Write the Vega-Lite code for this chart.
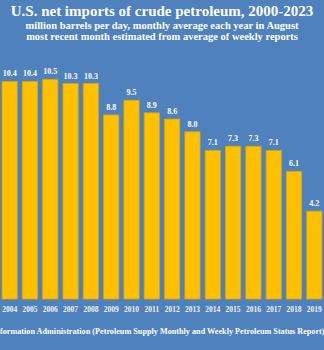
{
  "$schema": "https://vega.github.io/schema/vega-lite/v6.json",
  "autosize": "none",
  "padding": {"top": 48, "left": 0, "right": 0, "bottom": 51},
  "width": 324,
  "height": 251,
  "background": "#4F81BD",
  "title": {
    "text": "U.S. net imports of crude petroleum, 2000-2023",
    "subtitle": ["million barrels per day, monthly average each year in August", "most recent month estimated from average of weekly reports"],
    "anchor": "middle",
    "font": "Liberation Serif",
    "fontSize": 15,
    "fontWeight": "bold",
    "color": "#FFFFFF",
    "subtitleFont": "Liberation Serif",
    "subtitleFontSize": 10.5,
    "subtitleFontWeight": "bold",
    "subtitleColor": "#FFFFFF",
    "subtitleLineHeight": 11,
    "subtitlePadding": 2,
    "offset": 6
  },
  "data": {
    "values": [
      {"year": "2004", "value": 10.4},
      {"year": "2005", "value": 10.4},
      {"year": "2006", "value": 10.5},
      {"year": "2007", "value": 10.3},
      {"year": "2008", "value": 10.3},
      {"year": "2009", "value": 8.8},
      {"year": "2010", "value": 9.5},
      {"year": "2011", "value": 8.9},
      {"year": "2012", "value": 8.6},
      {"year": "2013", "value": 8.0},
      {"year": "2014", "value": 7.1},
      {"year": "2015", "value": 7.3},
      {"year": "2016", "value": 7.3},
      {"year": "2017", "value": 7.1},
      {"year": "2018", "value": 6.1},
      {"year": "2019", "value": 4.2}
    ]
  },
  "encoding": {
    "x": {
      "field": "year",
      "type": "ordinal",
      "scale": {"paddingInner": 0.25, "paddingOuter": 0.1},
      "axis": {
        "title": "formation Administration (Petroleum Supply Monthly and Weekly Petroleum Status Report)",
        "labelAngle": 0,
        "labelFont": "Liberation Serif",
        "labelFontSize": 7.5,
        "labelFontWeight": "bold",
        "labelColor": "#F2F2F2",
        "labelPadding": 6,
        "ticks": false,
        "domain": false,
        "titleFont": "Liberation Serif",
        "titleFontSize": 8.2,
        "titleFontWeight": "bold",
        "titleColor": "#FFFFFF",
        "titleAnchor": "end",
        "titlePadding": 15
      }
    },
    "y": {
      "field": "value",
      "type": "quantitative",
      "scale": {"domain": [0, 12], "nice": false},
      "axis": null
    }
  },
  "layer": [
    {
      "mark": {"type": "bar", "color": "#FFC000", "stroke": "#E0A400", "strokeWidth": 0.8}
    },
    {
      "mark": {"type": "text", "baseline": "bottom", "dy": -3, "font": "Liberation Serif", "fontSize": 8, "fontWeight": "bold", "color": "#FFFFFF"},
      "encoding": {
        "text": {"field": "value", "type": "quantitative", "format": ".1f"}
      }
    }
  ],
  "config": {
    "view": {"stroke": null}
  }
}
